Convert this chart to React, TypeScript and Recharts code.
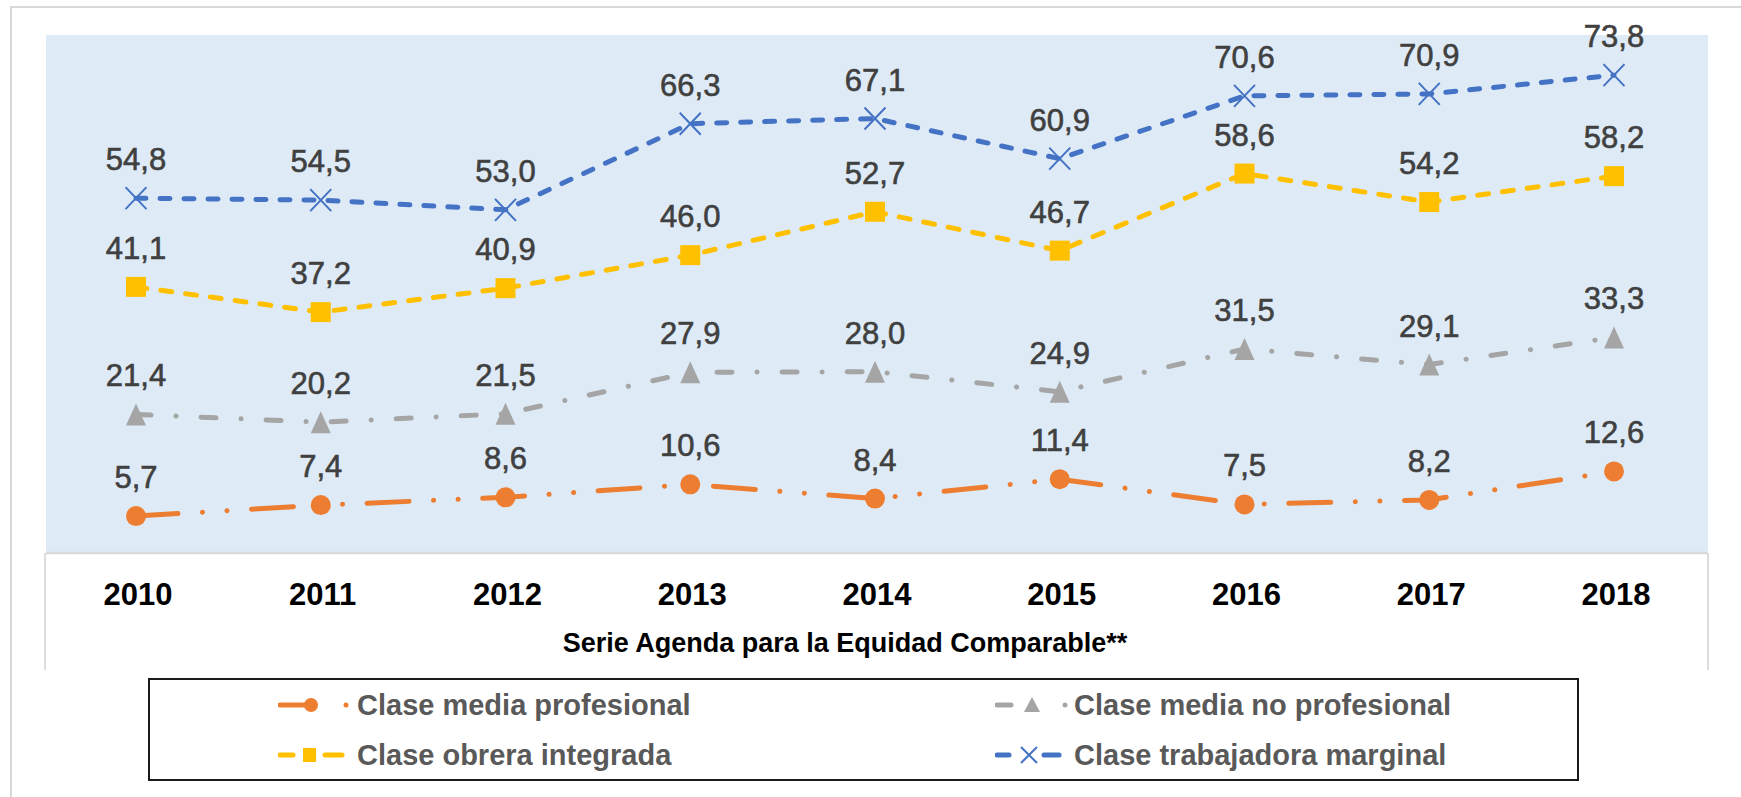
import React from 'react';
import { LineChart, Line, XAxis, YAxis, CartesianGrid, LabelList, Legend } from 'recharts';

const years = ['2010', '2011', '2012', '2013', '2014', '2015', '2016', '2017', '2018'];
const claseMediaProfesional = [5.7, 7.4, 8.6, 10.6, 8.4, 11.4, 7.5, 8.2, 12.6];
const claseMediaNoProfesional = [21.4, 20.2, 21.5, 27.9, 28.0, 24.9, 31.5, 29.1, 33.3];
const claseObreraIntegrada = [41.1, 37.2, 40.9, 46.0, 52.7, 46.7, 58.6, 54.2, 58.2];
const claseTrabajadoraMarginal = [54.8, 54.5, 53.0, 66.3, 67.1, 60.9, 70.6, 70.9, 73.8];
const seriesNames = [
  'Clase media profesional',
  'Clase media no profesional',
  'Clase obrera integrada',
  'Clase trabajadora marginal',
];
const axisTitle = 'Serie Agenda para la Equidad Comparable**';
const yDomain = [0, 80];

const data = years.map((year, i) => ({
  year,
  mp: claseMediaProfesional[i],
  mnp: claseMediaNoProfesional[i],
  oi: claseObreraIntegrada[i],
  tm: claseTrabajadoraMarginal[i],
}));

const FONT = '"Liberation Sans", Arial, Helvetica, sans-serif';
const ORANGE = '#ED7D31';
const GRAY = '#A5A5A5';
const YELLOW = '#FFC000';
const BLUE = '#4472C4';

const fmt = (v: number) => v.toFixed(1).replace('.', ',');

const CircleDot = (p: any) =>
  p.cx == null ? null : <circle key={`c-${p.index}`} cx={p.cx} cy={p.cy} r={10} fill={ORANGE} />;
const SquareDot = (p: any) =>
  p.cx == null ? null : <rect key={`s-${p.index}`} x={p.cx - 10} y={p.cy - 10} width={20} height={20} fill={YELLOW} />;
const TriDot = (p: any) =>
  p.cx == null ? null : (
    <path
      key={`t-${p.index}`}
      d={`M${p.cx},${p.cy - 11} L${p.cx + 10},${p.cy + 11} L${p.cx - 10},${p.cy + 11} Z`}
      fill={GRAY}
    />
  );
const XDot = (p: any) =>
  p.cx == null ? null : (
    <path
      key={`x-${p.index}`}
      d={`M${p.cx - 10.5},${p.cy - 11} L${p.cx + 10.5},${p.cy + 11} M${p.cx + 10.5},${p.cy - 11} L${p.cx - 10.5},${p.cy + 11}`}
      stroke={BLUE}
      strokeWidth={2}
      fill="none"
    />
  );

const ValueLabel = (p: any) => {
  const vb = p.viewBox || {};
  const x = p.x ?? vb.x;
  const y = p.y ?? vb.y;
  if (x == null || y == null || p.value == null) return null;
  return (
    <text
      x={x}
      y={y - 28}
      textAnchor="middle"
      fontSize={31}
      fill="#404040"
      stroke="#404040"
      strokeWidth={0.6}
      fontFamily={FONT}
    >
      {fmt(Number(p.value))}
    </text>
  );
};

const YearTick = (p: any) => (
  <text x={p.x + 2} y={p.y + 52} textAnchor="middle" fontSize={31} fontWeight="bold" fill="#000" fontFamily={FONT}>
    {p.payload.value}
  </text>
);

const AxisTitle = (p: any) => {
  const vb = p.viewBox || {};
  return (
    <text
      x={vb.x + vb.width / 2 - 32}
      y={vb.y + 99}
      textAnchor="middle"
      fontSize={27}
      fontWeight="bold"
      fill="#000"
      fontFamily={FONT}
    >
      {axisTitle}
    </text>
  );
};

const legendIcons: Record<string, React.ReactNode> = {
  'Clase media profesional': (
    <g>
      <line x1={2} y1={20} x2={33} y2={20} stroke={ORANGE} strokeWidth={5} strokeLinecap="round" />
      <circle cx={33} cy={20} r={7} fill={ORANGE} />
      <circle cx={68} cy={20} r={2.5} fill={ORANGE} />
    </g>
  ),
  'Clase obrera integrada': (
    <g>
      <line x1={2} y1={20} x2={15} y2={20} stroke={YELLOW} strokeWidth={5} strokeLinecap="round" />
      <rect x={25} y={13} width={13} height={14} fill={YELLOW} />
      <line x1={47} y1={20} x2={64} y2={20} stroke={YELLOW} strokeWidth={5} strokeLinecap="round" />
    </g>
  ),
  'Clase media no profesional': (
    <g>
      <line x1={2} y1={20} x2={16} y2={20} stroke={GRAY} strokeWidth={5} strokeLinecap="round" />
      <path d="M37,12 L45,27 L29,27 Z" fill={GRAY} />
      <circle cx={70} cy={20} r={2.5} fill={GRAY} />
    </g>
  ),
  'Clase trabajadora marginal': (
    <g>
      <line x1={2} y1={20} x2={14} y2={20} stroke={BLUE} strokeWidth={5} strokeLinecap="round" />
      <path d="M26,12 L42,28 M42,12 L26,28" stroke={BLUE} strokeWidth={2} />
      <line x1={49} y1={20} x2={64} y2={20} stroke={BLUE} strokeWidth={5} strokeLinecap="round" />
    </g>
  ),
};

const legendPlacement: Record<string, { left: number; top: number }> = {
  'Clase media profesional': { left: 130, top: 7 },
  'Clase obrera integrada': { left: 130, top: 57 },
  'Clase media no profesional': { left: 847, top: 7 },
  'Clase trabajadora marginal': { left: 847, top: 57 },
};

const CustomLegend = (props: any) => {
  const payload = props.payload || [];
  return (
    <div style={{ position: 'relative', width: 1431, height: 103 }}>
      <div
        style={{
          position: 'absolute',
          left: 0,
          top: 0,
          width: 1431,
          height: 103,
          border: '2.5px solid #1a1a1a',
          boxSizing: 'border-box',
        }}
      />
      {payload.map((entry: any) => {
        const name = entry.value as string;
        const pos = legendPlacement[name];
        if (!pos) return null;
        return (
          <div
            key={name}
            style={{
              position: 'absolute',
              left: pos.left,
              top: pos.top,
              height: 40,
              display: 'flex',
              alignItems: 'center',
              whiteSpace: 'nowrap',
            }}
          >
            <svg width={79} height={40} style={{ display: 'block' }}>
              {legendIcons[name]}
            </svg>
            <span style={{ fontFamily: FONT, fontSize: 29, fontWeight: 'bold', color: '#595959', lineHeight: '40px' }}>
              {name}
            </span>
          </div>
        );
      })}
    </div>
  );
};

export default function App() {
  return (
    <div style={{ position: 'absolute', left: 0, top: 0, width: 1741, height: 797, background: '#fff', overflow: 'hidden' }}>
      <div
        style={{
          position: 'absolute',
          left: 10,
          top: 6,
          width: 1800,
          height: 900,
          borderTop: '2.5px solid #D9D9D9',
          borderLeft: '2.5px solid #D9D9D9',
        }}
      />
      <div
        style={{
          position: 'absolute',
          left: 44,
          top: 553,
          width: 1665,
          height: 117,
          borderLeft: '2px solid #DCDCDC',
          borderRight: '2px solid #DCDCDC',
          boxSizing: 'border-box',
        }}
      />
      <div style={{ position: 'absolute', left: 0, top: 0 }}>
        <LineChart
          width={1741}
          height={797}
          data={data}
          margin={{ top: 35, right: 33, bottom: 127, left: 46 }}
        >
          <CartesianGrid horizontal={false} vertical={false} fill="#DEEBF7" stroke="none" />
          <XAxis
            dataKey="year"
            height={117}
            padding={{ left: 90, right: 94 }}
            axisLine={{ stroke: '#D9D9D9', strokeWidth: 2.5 }}
            tickLine={false}
            tickSize={0}
            tickMargin={0}
            tick={<YearTick />}
            interval={0}
            label={<AxisTitle />}
          />
          <YAxis hide domain={yDomain} type="number" />
          <Legend
            layout="horizontal"
            align="center"
            verticalAlign="middle"
            content={<CustomLegend />}
            wrapperStyle={{ position: 'absolute', left: 148, top: 678, width: 1431, height: 103 }}
          />
          <Line
            dataKey="mp"
            name={seriesNames[0]}
            stroke={ORANGE}
            strokeWidth={5}
            strokeLinecap="round"
            strokeDasharray="42 24.5 0.1 24.5 0.1 24.5"
            dot={CircleDot}
            isAnimationActive={false}
          >
            <LabelList dataKey="mp" content={<ValueLabel />} />
          </Line>
          <Line
            dataKey="mnp"
            name={seriesNames[1]}
            stroke={GRAY}
            strokeWidth={5}
            strokeLinecap="round"
            strokeDasharray="15 25 0.1 25"
            dot={TriDot}
            isAnimationActive={false}
          >
            <LabelList dataKey="mnp" content={<ValueLabel />} />
          </Line>
          <Line
            dataKey="oi"
            name={seriesNames[2]}
            stroke={YELLOW}
            strokeWidth={5}
            strokeLinecap="round"
            strokeDasharray="11 14"
            dot={SquareDot}
            isAnimationActive={false}
          >
            <LabelList dataKey="oi" content={<ValueLabel />} />
          </Line>
          <Line
            dataKey="tm"
            name={seriesNames[3]}
            stroke={BLUE}
            strokeWidth={5}
            strokeLinecap="round"
            strokeDasharray="10 14"
            dot={XDot}
            isAnimationActive={false}
          >
            <LabelList dataKey="tm" content={<ValueLabel />} />
          </Line>
        </LineChart>
      </div>
    </div>
  );
}
